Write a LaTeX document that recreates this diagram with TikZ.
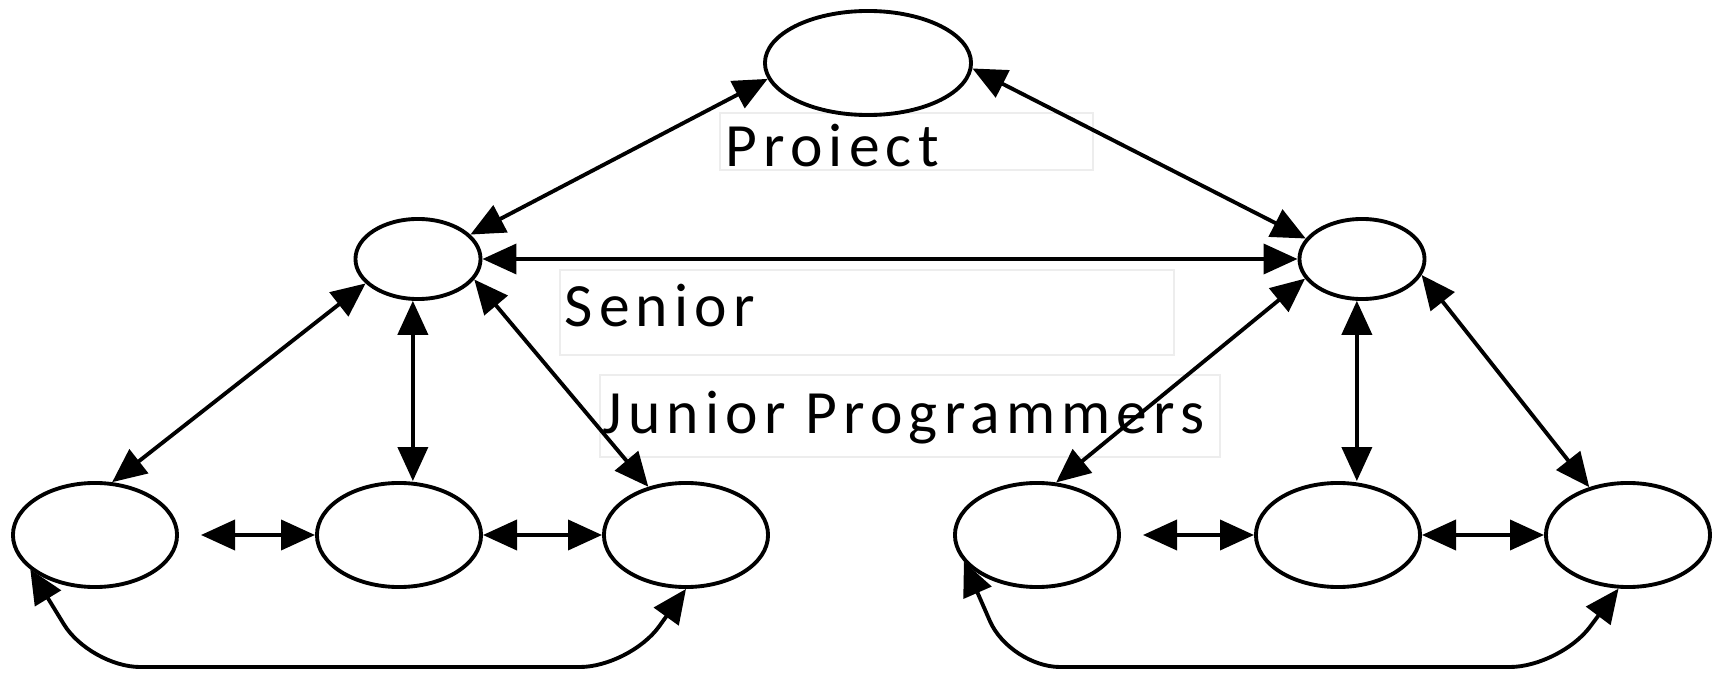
\documentclass[tikz,border=0pt]{standalone}
\usepackage{fontspec}
\setmainfont{Carlito}[LetterSpace=10]
\usetikzlibrary{shapes, arrows.meta}

\begin{document}
\begin{tikzpicture}[
    		x=0.01cm, y=-0.01cm,
    		every node/.style={anchor=center, inner sep=0pt},
    		member/.style={draw, ellipse, line width=1.1pt, minimum width=1.64cm, minimum height=1.04cm},
    		senior/.style={member, minimum width=1.25cm, minimum height=0.80cm},
    		project/.style={member, minimum width=2.06cm, minimum height=1.04cm},
    		tag/.style={anchor=base west, font=\fontsize{17.5}{21}\selectfont},
    		frame/.style={draw=black!7, line width=0.4pt},
    		to/.style={<->, line width=1.1pt, >={Triangle[length=0.34cm, width=0.30cm]}}
    		]
    		
    		\useasboundingbox (0,0) rectangle (1723,673);
    		
    		% label frames
    		\draw[frame] (720,113) rectangle (1093,170);
    		\draw[frame] (560,270) rectangle (1174,355);
    		\draw[frame] (600,375) rectangle (1220,457);
    		
    		\node[tag] (proj-lbl) at (725,167) {Proiect};
    		\node[tag] (sen-lbl) at (564,327) {Senior};
    		\node[tag] (jun-lbl) at (602,434) {Junior Programmers};
    		
    		\node[project] (proj) at (868,63) {};
    		\node[senior] (sl) at (418,259) {};
    		\node[senior] (sr) at (1362,259) {};
    		\node[member] (l1) at (95,535) {};
    		\node[member] (l2) at (399,535) {};
    		\node[member] (l3) at (686,535) {};
    		\node[member] (r1) at (1037,535) {};
    		\node[member] (r2) at (1338,535) {};
    		\node[member] (r3) at (1628,535) {};
    		
    		\draw[to] (proj.189) -- (sl.25);
    		\draw[to] (proj.-3) -- (sr.160);
    		\draw[to] (sl.east) -- (sr.west);
    		
    		\draw[to] (sl.205) -- (l1.72);
    		\draw[to] (sl.-97) -- (sl.-97 |- l2.north);
    		\draw[to] (sl.-20) -- (l3.128);
    		\draw[to, shorten <=0.22cm] (l1) -- (l2);
    		\draw[to] (l2) -- (l3);
    		\draw[to, rounded corners=0.5cm] (l1.208) -- (90,667) -- (630,667) -- (l3.south);
    		
    		\draw[to] (sr.199) -- (r1.70);
    		\draw[to] (sr.-97) -- (sr.-97 |- r2.north);
    		\draw[to] (sr.-15) -- (r3.129);
    		\draw[to, shorten <=0.22cm] (r1) -- (r2);
    		\draw[to] (r2) -- (r3);
    		\draw[to, rounded corners=0.5cm] (r1.200) -- (1010,667) -- (1560,667) -- (r3.-100);
    		
    		\end{tikzpicture}
\end{document}
